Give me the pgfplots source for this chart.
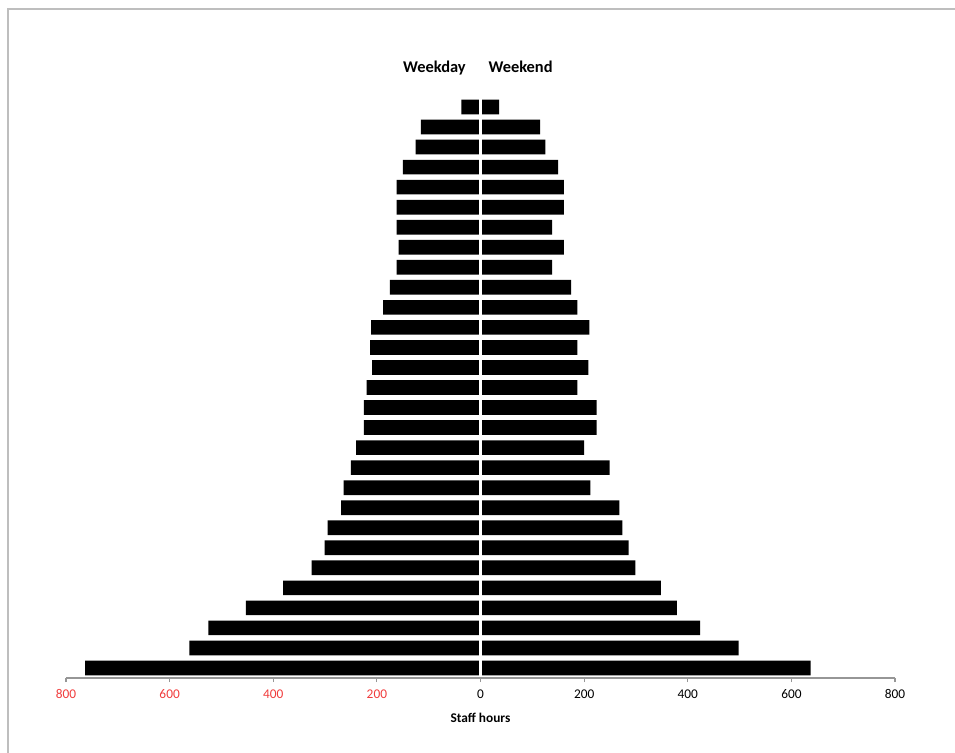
\documentclass[border=0pt]{standalone}
\usepackage{fontspec}
\setmainfont{Carlito}
\usepackage{pgfplots}
\pgfplotsset{compat=1.18}
\definecolor{negred}{RGB}{240,60,60}
\definecolor{axgray}{RGB}{150,150,150}
\definecolor{framegray}{RGB}{190,190,190}
\begin{document}
\begin{tikzpicture}
\useasboundingbox (0pt,0pt) rectangle (716.25pt,564pt);
\draw[framegray, line width=1.1pt] (6pt,-40pt) rectangle (760pt,557.25pt);
\begin{axis}[
  at={(49.5pt,55.5pt)}, anchor=south west,
  scale only axis, width=621.75pt, height=435.75pt,
  xmin=-800, xmax=800, ymin=-0.5, ymax=28.5,
  axis x line*=bottom, axis y line=none, ytick=\empty,
  xtick={-800,-600,-400,-200,0,200,400,600,800},
  xticklabels={\textcolor{negred}{800},\textcolor{negred}{600},\textcolor{negred}{400},\textcolor{negred}{200},0,200,400,600,800},
  tick align=outside, major tick length=3pt,
  tick style={axgray, line width=0.8pt},
  axis line style={axgray, line width=0.9pt, -},
  x tick label style={font=\fontsize{10}{12}\selectfont, yshift=-2.3pt},
  xlabel={Staff hours},
  xlabel style={font=\bfseries\fontsize{10}{12}\selectfont, yshift=-3.5pt},
  xbar, bar shift=0pt, bar width=11pt,
  clip=false, axis on top=true,
]
\addplot[fill=black, draw=none] coordinates {
(-763,0) (-562,1) (-525,2) (-453,3) (-381,4) (-326,5) (-301,6) (-295,7) (-269,8) (-264,9)
(-250,10) (-240,11) (-225,12) (-225,13) (-220,14) (-209,15) (-213,16) (-211,17) (-188,18) (-175,19)
(-162,20) (-158,21) (-162,22) (-162,23) (-162,24) (-150,25) (-125,26) (-115,27) (-37,28)};
\addplot[fill=black, draw=none] coordinates {
(637,0) (498,1) (424,2) (379,3) (348,4) (299,5) (286,6) (274,7) (268,8) (212,9)
(249,10) (200,11) (224,12) (224,13) (187,14) (208,15) (187,16) (210,17) (187,18) (175,19)
(138,20) (161,21) (138,22) (161,23) (161,24) (150,25) (125,26) (115,27) (36,28)};
\draw[white, line width=2.5pt] (axis cs:0,-0.5) -- (axis cs:0,28.5);
\node[anchor=base east, inner sep=0pt, font=\bfseries\fontsize{12.3}{14}\selectfont] at (axis cs:-28,29.7) {Weekday};
\node[anchor=base west, inner sep=0pt, font=\bfseries\fontsize{12.3}{14}\selectfont] at (axis cs:15,29.7) {Weekend};
\end{axis}
\end{tikzpicture}
\end{document}
